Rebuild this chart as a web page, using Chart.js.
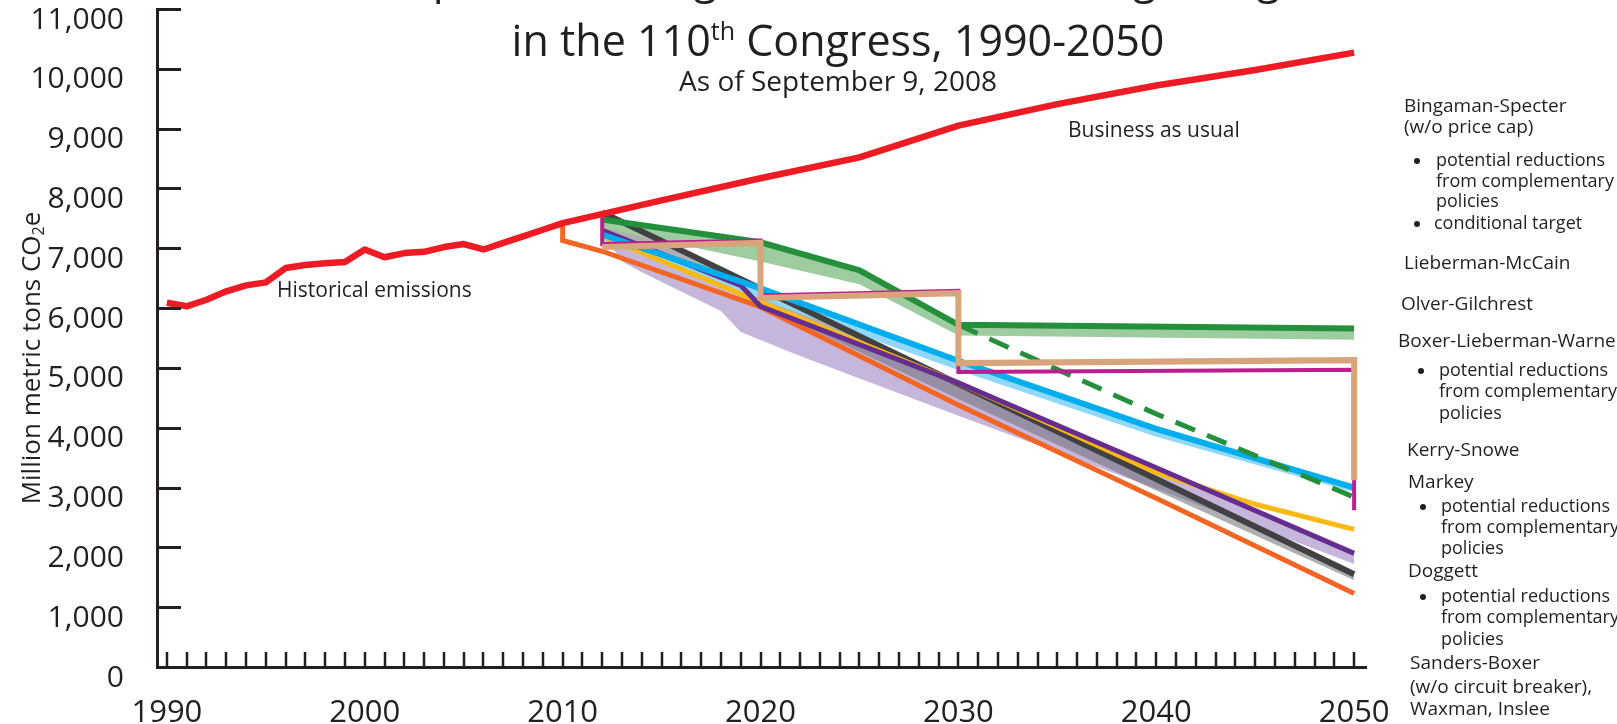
<!DOCTYPE html>
<html>
<head>
<meta charset="utf-8">
<script src="https://cdn.jsdelivr.net/npm/chart.js@4.4.1/dist/chart.umd.min.js"></script>
<style>
  html, body { margin: 0; padding: 0; background: #fff; }
</style>
</head>
<body>
<canvas id="targetsChart" width="1617" height="724"></canvas>
<script>
const FONT = '"Open Sans", "Noto Sans", sans-serif';
const INK = '#231f20';

// Historical emissions 1990-2010 (million metric tons CO2e)
const histYears  = [1990, 1991, 1992, 1993, 1994, 1995, 1996, 1997, 1998, 1999, 2000,
                    2001, 2002, 2003, 2004, 2005, 2006, 2007, 2008, 2009, 2010];
const histValues = [6090, 6030, 6140, 6280, 6380, 6430, 6670, 6720, 6750, 6770, 6980,
                    6850, 6920, 6940, 7020, 7070, 6980, 7090, 7200, 7310, 7420];

// Business as usual
const bauYears  = [2015, 2020, 2025, 2030, 2035, 2040, 2045, 2050];
const bauValues = [7800, 8170, 8520, 9050, 9410, 9720, 9980, 10270];

// Bingaman-Specter (green), its complementary-policy band and conditional target
const bsYears      = [2012, 2020, 2025, 2030, 2050];
const bsValues     = [7480, 7100, 6630, 5720, 5660];
const bsBandValues = [7340, 6780, 6400, 5540, 5470];
const bsCondYears  = [2030, 2040, 2050];
const bsCondValues = [5720, 4230, 2840];

// Lieberman-McCain (tan steps) and Olver-Gilchrest (magenta steps)
const lmYears  = [2012, 2020, 2020, 2030, 2030, 2050, 2050];
const lmValues = [7020, 7090, 6170, 6250, 5080, 5130, 3120];
const ogYears  = [2012, 2012, 2020, 2020, 2030, 2030, 2050, 2050];
const ogValues = [7520, 7070, 7130, 6210, 6290, 4930, 4970, 2620];

// Boxer-Lieberman-Warner (blue) and band
const blwYears      = [2012, 2020, 2030, 2040, 2050];
const blwValues     = [7230, 6330, 5120, 3980, 3000];
const blwBandValues = [7130, 6150, 4960, 3850, 2920];

// Kerry-Snowe (yellow)
const ksYears  = [2012, 2020, 2030, 2035, 2040, 2045, 2050];
const ksValues = [7200, 6100, 4750, 4010, 3250, 2720, 2300];

// Markey (purple) and band
const mkYears      = [2012, 2019, 2020, 2030, 2040, 2050];
const mkValues     = [7300, 6380, 6030, 4750, 3330, 1900];
const mkBandYears  = [2012, 2013, 2014, 2018, 2019, 2022, 2030, 2040, 2050];
const mkBandValues = [7250, 6780, 6600, 5950, 5600, 5200, 4200, 2980, 1720];

// Doggett (dark grey) and band
const dgYears      = [2012, 2050];
const dgValues     = [7600, 1550];
const dgBandYears  = [2012, 2020, 2030, 2040, 2050];
const dgBandValues = [7250, 6050, 4480, 2950, 1450];

// Sanders-Boxer / Waxman / Inslee (orange)
const sbYears  = [2010, 2010, 2012, 2020, 2030, 2040, 2050];
const sbValues = [7420, 7130, 6950, 6020, 4380, 2820, 1230];

const yTicks = { min: 0, max: 11000, step: 1000 };

// h = bill heading, otherwise a bullet / continuation line
const legendLines = [
  { t: 'Bingaman-Specter', x: 1404, y: 112, h: true },
  { t: '(w/o price cap)', x: 1404, y: 133, h: true },
  { t: 'potential reductions', x: 1436, y: 166, bullet: 1417 },
  { t: 'from complementary', x: 1436, y: 187 },
  { t: 'policies', x: 1436, y: 207 },
  { t: 'conditional target', x: 1434, y: 229, bullet: 1417 },
  { t: 'Lieberman-McCain', x: 1404, y: 269, h: true },
  { t: 'Olver-Gilchrest', x: 1401, y: 310, h: true },
  { t: 'Boxer-Lieberman-Warner', x: 1398, y: 347, h: true },
  { t: 'potential reductions', x: 1439, y: 376, bullet: 1421 },
  { t: 'from complementary', x: 1439, y: 397 },
  { t: 'policies', x: 1439, y: 419 },
  { t: 'Kerry-Snowe', x: 1407, y: 456, h: true },
  { t: 'Markey', x: 1408, y: 488, h: true },
  { t: 'potential reductions', x: 1441, y: 512, bullet: 1423 },
  { t: 'from complementary', x: 1441, y: 533 },
  { t: 'policies', x: 1441, y: 554 },
  { t: 'Doggett', x: 1408, y: 577, h: true },
  { t: 'potential reductions', x: 1441, y: 602, bullet: 1423 },
  { t: 'from complementary', x: 1441, y: 623 },
  { t: 'policies', x: 1441, y: 645 },
  { t: 'Sanders-Boxer', x: 1410, y: 669, h: true },
  { t: '(w/o circuit breaker),', x: 1410, y: 693, h: true },
  { t: 'Waxman, Inslee', x: 1410, y: 715, h: true }
];

const pts = (xs, ys) => xs.map((x, i) => ({ x: x, y: ys[i] }));

function line(label, xs, ys, color, width, order, extra) {
  return Object.assign({
    label: label,
    data: pts(xs, ys),
    borderColor: color,
    borderWidth: width,
    pointRadius: 0,
    fill: false,
    tension: 0,
    borderJoinStyle: 'miter',
    order: order
  }, extra || {});
}

function band(label, xs, ys, color, target, order) {
  return {
    label: label,
    data: pts(xs, ys),
    borderWidth: 0,
    borderColor: 'rgba(0,0,0,0)',
    backgroundColor: color,
    pointRadius: 0,
    tension: 0,
    fill: { target: target },
    order: order
  };
}

const datasets = [
  line('Business as usual', histYears.concat(bauYears), histValues.concat(bauValues), '#ed1c24', 6.5, 1, { borderJoinStyle: 'round' }),
  line('Lieberman-McCain', lmYears, lmValues, '#d8a47b', 6, 2),
  line('Olver-Gilchrest', ogYears, ogValues, '#bd1e8e', 4, 3),
  line('Bingaman-Specter', bsYears, bsValues, '#25903c', 6, 4),
  line('Bingaman-Specter conditional target', bsCondYears, bsCondValues, '#25903c', 5, 5, { borderDash: [21, 13] }),
  line('Boxer-Lieberman-Warner', blwYears, blwValues, '#00aeef', 6, 6),
  line('Kerry-Snowe', ksYears, ksValues, '#fdb913', 5, 8),
  line('Markey', mkYears, mkValues, '#662d91', 5, 7),
  line('Doggett', dgYears, dgValues, '#414042', 6, 9),
  line('Sanders-Boxer, Waxman, Inslee', sbYears, sbValues, '#f26522', 5, 10),
  band('Bingaman-Specter complementary', bsYears, bsBandValues, '#9ccc9f', 3, 20),
  band('Boxer-Lieberman-Warner complementary', blwYears, blwBandValues, '#90d8f6', 5, 21),
  band('Doggett complementary', dgBandYears, dgBandValues, 'rgba(110,110,116,0.55)', 8, 22),
  band('Markey complementary', mkBandYears, mkBandValues, '#c7b6dc', 7, 23)
];

// draws several text runs (for super/subscripts), centred on cx
function drawRuns(ctx, runs, cx, y) {
  let total = 0;
  runs.forEach(r => {
    ctx.font = r.size + 'px ' + FONT;
    r.w = ctx.measureText(r.text).width;
    total += r.w;
  });
  let x = cx - total / 2;
  ctx.textAlign = 'left';
  runs.forEach(r => {
    ctx.font = r.size + 'px ' + FONT;
    ctx.fillText(r.text, x, y - (r.rise || 0));
    x += r.w;
  });
}

const innerTicks = {
  id: 'innerTicks',
  afterDraw(chart) {
    const { ctx, scales: { x, y } } = chart;
    ctx.save();
    ctx.strokeStyle = INK;
    ctx.lineWidth = 3;
    y.ticks.forEach(t => {
      const py = Math.round(y.getPixelForValue(t.value)) + 0.5;
      ctx.beginPath();
      ctx.moveTo(x.left, py);
      ctx.lineTo(x.left + 24, py);
      ctx.stroke();
    });
    ctx.lineWidth = 2.5;
    x.ticks.forEach(t => {
      const px = Math.round(x.getPixelForValue(t.value));
      ctx.beginPath();
      ctx.moveTo(px, y.bottom);
      ctx.lineTo(px, y.bottom - 15);
      ctx.stroke();
    });
    ctx.restore();
  }
};

const textLayer = {
  id: 'textLayer',
  afterDraw(chart) {
    const ctx = chart.ctx;
    ctx.save();
    ctx.fillStyle = INK;
    ctx.textBaseline = 'alphabetic';

    // title (first line runs off the top of the picture)
    ctx.font = '43px ' + FONT;
    ctx.textAlign = 'center';
    ctx.fillText('Comparison of Legislative Climate Change Targets', 840, -7);
    drawRuns(ctx, [
      { text: 'in the 110', size: 43 },
      { text: 'th', size: 25, rise: 16 },
      { text: ' Congress, 1990-2050', size: 43 }
    ], 838, 56);
    ctx.font = '28px ' + FONT;
    ctx.textAlign = 'center';
    ctx.fillText('As of September 9, 2008', 838, 91);

    // annotations
    ctx.font = '21px ' + FONT;
    ctx.textAlign = 'left';
    ctx.fillText('Business as usual', 1068, 137);
    ctx.fillText('Historical emissions', 277, 297);

    // y axis title
    ctx.save();
    ctx.translate(40, 358);
    ctx.rotate(-Math.PI / 2);
    drawRuns(ctx, [
      { text: 'Million metric tons CO', size: 26 },
      { text: '2', size: 16, rise: -4 },
      { text: 'e', size: 26 }
    ], 0, 0);
    ctx.restore();

    // policy list on the right
    ctx.textAlign = 'left';
    legendLines.forEach(l => {
      ctx.font = (l.h ? 19 : 18) + 'px ' + FONT;
      ctx.fillText(l.t, l.x, l.y);
      if (l.bullet) {
        ctx.beginPath();
        ctx.arc(l.bullet, l.y - 5, 3, 0, Math.PI * 2);
        ctx.fill();
      }
    });
    ctx.restore();
  }
};

new Chart(document.getElementById('targetsChart').getContext('2d'), {
  type: 'line',
  data: { datasets: datasets },
  plugins: [innerTicks, textLayer],
  options: {
    responsive: false,
    animation: false,
    layout: { padding: { top: 9, right: 251, left: 0, bottom: 0 } },
    plugins: {
      legend: { display: false },
      tooltip: { enabled: false }
    },
    scales: {
      x: {
        type: 'linear',
        min: 1989.5,
        max: 2050.6,
        grid: { display: false, drawTicks: false },
        border: { display: true, color: INK, width: 3 },
        ticks: {
          stepSize: 1,
          includeBounds: false,
          autoSkip: false,
          maxRotation: 0,
          padding: 28,
          color: INK,
          font: { family: FONT, size: 31 },
          callback: v => (v % 10 === 0 ? String(v) : '')
        },
        afterFit: s => { s.height = 57; s.paddingLeft = 0; s.paddingRight = 0; }
      },
      y: {
        min: yTicks.min,
        max: yTicks.max,
        grid: { display: false, drawTicks: false },
        border: { display: true, color: INK, width: 3 },
        ticks: {
          stepSize: yTicks.step,
          padding: 33,
          labelOffset: 11,
          color: INK,
          font: { family: FONT, size: 30 },
          callback: v => v.toLocaleString('en-US')
        },
        afterFit: s => { s.width = 157; s.paddingTop = 0; s.paddingBottom = 0; }
      }
    }
  }
});
</script>
</body>
</html>
